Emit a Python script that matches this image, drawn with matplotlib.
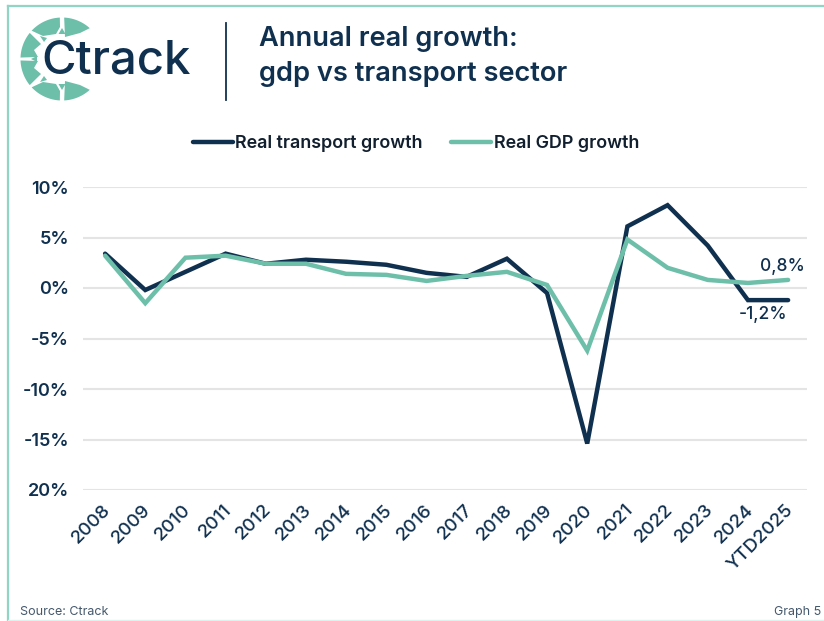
import matplotlib
matplotlib.use("Agg")
import matplotlib.pyplot as plt
from matplotlib.patches import Polygon
from matplotlib.transforms import ScaledTranslation
import numpy as np

NAVY = "#10304f"
TEAL = "#6dbfa9"
BORDER = "#8fd4c4"
GRID = "#e4e4e4"

W, H = 824, 621

years = ["2008", "2009", "2010", "2011", "2012", "2013", "2014", "2015", "2016",
         "2017", "2018", "2019", "2020", "2021", "2022", "2023", "2024", "YTD2025"]
transport = [3.4, -0.2, 1.6, 3.4, 2.4, 2.8, 2.6, 2.3, 1.5, 1.1, 2.9, -0.5, -15.4, 6.1, 8.2, 4.2, -1.2, -1.2]
gdp = [3.2, -1.5, 3.0, 3.2, 2.4, 2.4, 1.4, 1.3, 0.7, 1.2, 1.6, 0.3, -6.2, 4.8, 2.0, 0.8, 0.5, 0.8]
y_ticks = [10, 5, 0, -5, -10, -15, -20]
y_labels = ["10%", "5%", "0%", "-5%", "-10%", "-15%", "20%"]

plt.rcParams["font.family"] = ["Inter", "DejaVu Sans"]

fig = plt.figure(figsize=(W / 100, H / 100), dpi=100)

# Overlay in pixel coordinates for the header, frame and logo
bg = fig.add_axes([0, 0, 1, 1])
bg.set_xlim(0, W)
bg.set_ylim(H, 0)
bg.axis("off")

bg.plot([8, 8], [6, H], color=BORDER, lw=1.6)
bg.plot([8, W], [6, 6], color=BORDER, lw=1.6)
bg.plot([8, W], [620, 620], color="#dff1ec", lw=1.0)


def logo_segment(a, b, inner, cx=62, cy=59, r=41.5):
    """Outer arc from angle a to b (degrees, y down), closed through the inner points"""
    t = np.radians(np.linspace(a, b, 24))
    arc = np.column_stack([cx + r * np.cos(t), cy + r * np.sin(t)])
    return Polygon(np.vstack([arc, inner]), closed=True, color=TEAL, lw=0)


# top right, top left, left upper and their mirror images below the centre
for sign in (1, -1):
    my = lambda pts: [(px, 59 + sign * (py - 59)) for px, py in pts]
    a0 = -1 if sign == 1 else 1
    bg.add_patch(logo_segment(a0 * 87, a0 * 48, my([(80, 33), (65, 37)])))
    bg.add_patch(logo_segment(a0 * 93, a0 * 137, my([(43, 36), (56, 34), (60, 27)])))
    bg.add_patch(logo_segment(a0 * 141, a0 * 178, my([(38, 57), (34, 50), (41, 44)])))
    bg.add_patch(Polygon(my([(62, 28), (58.5, 34), (65.5, 34)]), closed=True, color=TEAL, lw=0))
    bg.add_patch(Polygon(my([(40, 36), (47, 38), (44, 42)]), closed=True, color=TEAL, lw=0))
bg.add_patch(Polygon([(31, 59), (37, 56), (37, 62)], closed=True, color=TEAL, lw=0))
bg.text(41, 62, "Ctrack", fontsize=34, color=NAVY, ha="left", va="center", fontweight="medium")

bg.plot([226.5, 226.5], [23, 100], color=NAVY, lw=1.3)
bg.text(259, 39, "Annual real growth:", fontsize=19.6, fontweight="semibold", color=NAVY, va="center")
bg.text(259, 74, "gdp vs transport sector", fontsize=19.6, fontweight="semibold", color=NAVY, va="center")

bg.text(20, 612, "Source: Ctrack", fontsize=9, color="#44586c", va="center")
bg.text(821, 612, "Graph 5", fontsize=9, color="#44586c", va="center", ha="right")

# Chart area
ax = fig.add_axes([83 / W, 1 - 490 / H, (807 - 83) / W, (490 - 187) / H])
ax.patch.set_alpha(0)
x = list(range(len(years)))
ax.plot(x, transport, color=NAVY, lw=3.2, solid_capstyle="round", solid_joinstyle="miter", label="Real transport growth")
ax.plot(x, gdp, color=TEAL, lw=3.2, solid_capstyle="round", solid_joinstyle="miter", label="Real GDP growth")

ax.set_xlim(-0.55, 17.47)
ax.set_ylim(-20, 10)
ax.set_yticks(y_ticks)
ax.set_yticklabels(y_labels, fontsize=13, fontweight="semibold", color=NAVY)
ax.set_xticks(x)
ax.set_xticklabels(years, fontsize=13.5, fontweight="medium", color=NAVY, rotation=45, ha="right", rotation_mode="anchor")
ax.tick_params(length=0)
ax.tick_params(axis="y", pad=10)
ax.tick_params(axis="x", pad=8)
shift = ScaledTranslation(-3 / 100, 0, fig.dpi_scale_trans)
for lab in ax.get_xticklabels():
    lab.set_transform(lab.get_transform() + shift)
ax.grid(axis="y", color=GRID, lw=1.5)
ax.set_axisbelow(True)
for s in ax.spines.values():
    s.set_visible(False)

ax.annotate("0,8%", (x[-1], gdp[-1]), xytext=(-4, 10), textcoords="offset points",
            fontsize=12.5, fontweight="medium", color=NAVY, ha="center", va="center")
ax.annotate("-1,2%", (x[-1], transport[-1]), xytext=(-18, -10), textcoords="offset points",
            fontsize=12.5, fontweight="medium", color=NAVY, ha="center", va="center")

fig.legend(loc="center", bbox_to_anchor=(416 / W, 1 - 144 / H), ncol=2, frameon=False,
           prop={"size": 12.9, "weight": "semibold"}, labelcolor="#111f2e",
           handlelength=2.2, handletextpad=0.15, columnspacing=1.6)

fig.savefig("out.png", dpi=100)
